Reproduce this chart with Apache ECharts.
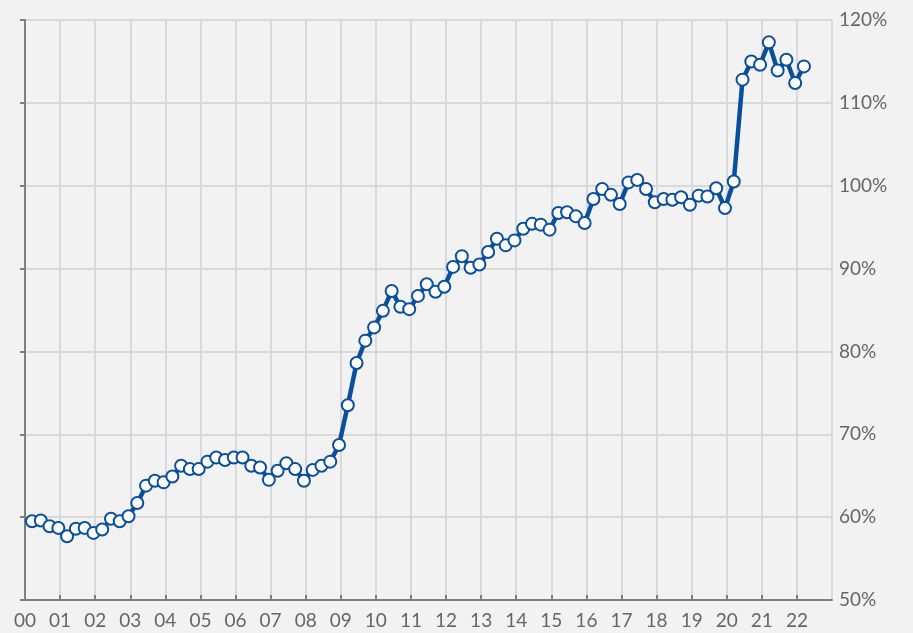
<!DOCTYPE html>
<html>
<head>
<meta charset="utf-8">
<script src="https://cdn.jsdelivr.net/npm/echarts@6/dist/echarts.min.js"></script>
<style>
html,body{margin:0;padding:0;background:#f2f2f2;}
#chart{width:913px;height:633px;}
</style>
</head>
<body>
<div id="chart"></div>
<script>
// Year tick labels (x axis)
const yearLabels = ['00','01','02','03','04','05','06','07','08','09','10','11','12','13','14','15','16','17','18','19','20','21','22'];
// Quarterly observations, 2000 Q1 .. 2022 Q1 (values in %)
const values = [
  59.5, 59.6, 58.9, 58.7, 57.7, 58.6, 58.7, 58.1, 58.5, 59.8, 59.5, 60.1,
  61.7, 63.8, 64.4, 64.2, 64.9, 66.2, 65.8, 65.8, 66.7, 67.2, 66.9, 67.2,
  67.2, 66.2, 66.0, 64.5, 65.6, 66.5, 65.8, 64.4, 65.7, 66.2, 66.7, 68.7,
  73.5, 78.6, 81.3, 82.9, 84.9, 87.3, 85.4, 85.1, 86.7, 88.1, 87.2, 87.8,
  90.2, 91.5, 90.1, 90.5, 92.0, 93.6, 92.8, 93.4, 94.8, 95.4, 95.3, 94.7,
  96.7, 96.8, 96.3, 95.5, 98.4, 99.6, 98.9, 97.8, 100.4, 100.7, 99.6, 98.0,
  98.4, 98.3, 98.6, 97.7, 98.8, 98.7, 99.7, 97.3, 100.5, 112.8, 115.0, 114.6,
  117.3, 113.9, 115.2, 112.4, 114.4
];
const yTicks = [50, 60, 70, 80, 90, 100, 110, 120];

const periodOffset = 0.2; // position of a quarterly observation within its quarter on the year scale
const seriesData = values.map((v, i) => [Math.floor(i / 4) + (i % 4) / 4 + periodOffset, v]);

const chart = echarts.init(document.getElementById('chart'), null, {renderer: 'canvas'});
const axisColor = '#7f7f7f';
const gridColor = '#d9d9d9';
const labelFont = {color: '#666666', fontSize: 19, fontFamily: 'Lato, "DejaVu Sans", sans-serif'};

chart.setOption({
  backgroundColor: '#f2f2f2',
  animation: false,
  grid: {left: 25, right: 81, top: 20, bottom: 33, containLabel: false},
  xAxis: {
    type: 'value',
    min: 0,
    max: yearLabels.length,
    interval: 1,
    axisLine: {show: true, lineStyle: {color: axisColor, width: 2}},
    axisTick: {show: true, inside: true, length: 5, lineStyle: {color: axisColor, width: 2}},
    splitLine: {show: true, lineStyle: {color: gridColor, width: 2}},
    axisLabel: Object.assign({
      margin: 11,
      showMaxLabel: false,
      formatter: v => (yearLabels[v] !== undefined ? yearLabels[v] : '')
    }, labelFont)
  },
  yAxis: {
    type: 'value',
    position: 'right',
    min: yTicks[0],
    max: yTicks[yTicks.length - 1],
    interval: 10,
    axisLine: {show: true, lineStyle: {color: axisColor, width: 2}},
    axisTick: {show: true, inside: true, length: 5, lineStyle: {color: axisColor, width: 2}},
    splitLine: {show: true, lineStyle: {color: gridColor, width: 2}},
    axisLabel: Object.assign({margin: 7, formatter: '{value}%'}, labelFont)
  },
  series: [{
    type: 'line',
    data: seriesData,
    symbol: 'circle',
    symbolSize: 12,
    showAllSymbol: true,
    lineStyle: {color: '#0a4f9c', width: 4.5},
    itemStyle: {color: '#ffffff', borderColor: '#0a4f9c', borderWidth: 2},
    z: 3
  }]
});
</script>
</body>
</html>
